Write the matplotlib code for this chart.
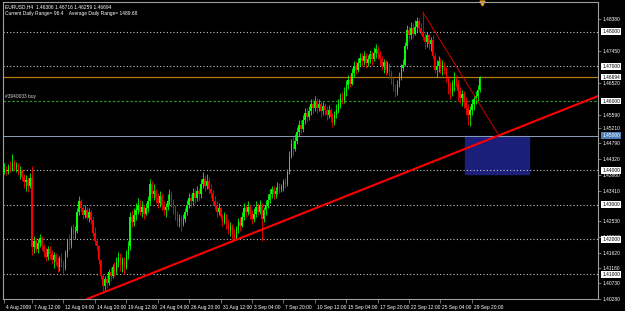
import matplotlib
matplotlib.use("Agg")
import matplotlib.pyplot as plt
import matplotlib.transforms as mtrans
from matplotlib.transforms import blended_transform_factory

# EURUSD H4 bars (open = previous close)
first_open = 1.4395
closes = [
    1.4405, 1.4395, 1.4410, 1.4402, 1.4420, 1.4408, 1.4415, 1.4392, 1.4398, 1.4380,
    1.4365, 1.4372, 1.4355, 1.4378, 1.4178, 1.4195, 1.4172, 1.4190, 1.4205, 1.4180,
    1.4165, 1.4150, 1.4172, 1.4158, 1.4140, 1.4155, 1.4135, 1.4120, 1.4145, 1.4130,
    1.4118, 1.4160, 1.4195, 1.4185, 1.4230, 1.4218, 1.4225, 1.4280, 1.4310, 1.4290,
    1.4270, 1.4285, 1.4262, 1.4280, 1.4255, 1.4220, 1.4195, 1.4180, 1.4140, 1.4095,
    1.4065, 1.4085, 1.4075, 1.4105, 1.4095, 1.4120, 1.4110, 1.4135, 1.4150, 1.4125,
    1.4140, 1.4120, 1.4155, 1.4180, 1.4265, 1.4250, 1.4270, 1.4285, 1.4300, 1.4280,
    1.4295, 1.4275, 1.4290, 1.4310, 1.4360, 1.4330, 1.4340, 1.4320, 1.4305, 1.4325,
    1.4300, 1.4285, 1.4295, 1.4310, 1.4330, 1.4310, 1.4290, 1.4270, 1.4250, 1.4262,
    1.4245, 1.4260, 1.4280, 1.4300, 1.4320, 1.4310, 1.4335, 1.4320, 1.4340, 1.4330,
    1.4360, 1.4375, 1.4355, 1.4370, 1.4345, 1.4335, 1.4310, 1.4300, 1.4280, 1.4290,
    1.4265, 1.4250, 1.4270, 1.4245, 1.4225, 1.4240, 1.4215, 1.4205, 1.4230, 1.4250,
    1.4240, 1.4265, 1.4290, 1.4280, 1.4295, 1.4275, 1.4260, 1.4275, 1.4295, 1.4280,
    1.4300, 1.4260, 1.4285, 1.4300, 1.4315, 1.4330, 1.4345, 1.4330, 1.4340, 1.4355,
    1.4345, 1.4350, 1.4365, 1.4360, 1.4395, 1.4440, 1.4475, 1.4460, 1.4485, 1.4510,
    1.4530, 1.4520, 1.4545, 1.4565, 1.4555, 1.4570, 1.4590, 1.4580, 1.4600, 1.4580,
    1.4590, 1.4570, 1.4585, 1.4575, 1.4560, 1.4575, 1.4555, 1.4540, 1.4560, 1.4575,
    1.4590, 1.4610, 1.4600, 1.4625, 1.4645, 1.4660, 1.4650, 1.4680, 1.4700, 1.4690,
    1.4710, 1.4725, 1.4715, 1.4730, 1.4710, 1.4720, 1.4735, 1.4720, 1.4740, 1.4750,
    1.4735, 1.4720, 1.4700, 1.4712, 1.4690, 1.4705, 1.4680, 1.4660, 1.4640, 1.4625,
    1.4650, 1.4670, 1.4695, 1.4705, 1.4760, 1.4805, 1.4790, 1.4810, 1.4795, 1.4815,
    1.4830, 1.4810, 1.4800, 1.4785, 1.4770, 1.4790, 1.4765, 1.4775, 1.4730, 1.4690,
    1.4700, 1.4715, 1.4695, 1.4705, 1.4690, 1.4665, 1.4640, 1.4625, 1.4645, 1.4665,
    1.4650, 1.4630, 1.4610, 1.4620, 1.4600, 1.4580, 1.4560, 1.4575, 1.4590, 1.4605,
    1.4615, 1.4631, 1.46694,
]
highs = [
    1.4420, 1.4412, 1.4418, 1.4428, 1.4447, 1.4430, 1.4425, 1.4420, 1.4412, 1.4404,
    1.4390, 1.4385, 1.4380, 1.4392, 1.4413, 1.4210, 1.4205, 1.4200, 1.4215, 1.4210,
    1.4188, 1.4175, 1.4180, 1.4182, 1.4170, 1.4165, 1.4162, 1.4148, 1.4152, 1.4160,
    1.4140, 1.4170, 1.4205, 1.4215, 1.4240, 1.4245, 1.4238, 1.4290, 1.4325, 1.4318,
    1.4300, 1.4300, 1.4295, 1.4292, 1.4285, 1.4268, 1.4235, 1.4205, 1.4185, 1.4145,
    1.4100, 1.4095, 1.4098, 1.4115, 1.4120, 1.4130, 1.4135, 1.4150, 1.4165, 1.4160,
    1.4150, 1.4148, 1.4170, 1.4195, 1.4280, 1.4285, 1.4290, 1.4305, 1.4320, 1.4315,
    1.4310, 1.4300, 1.4305, 1.4325, 1.4375, 1.4370, 1.4360, 1.4345, 1.4335, 1.4340,
    1.4335, 1.4310, 1.4305, 1.4330, 1.4345, 1.4340, 1.4318, 1.4300, 1.4282, 1.4275,
    1.4270, 1.4275, 1.4290, 1.4315, 1.4335, 1.4330, 1.4350, 1.4345, 1.4355, 1.4350,
    1.4375, 1.4395, 1.4385, 1.4390, 1.4380, 1.4360, 1.4345, 1.4325, 1.4310, 1.4305,
    1.4295, 1.4275, 1.4280, 1.4275, 1.4255, 1.4250, 1.4245, 1.4230, 1.4240, 1.4262,
    1.4265, 1.4280, 1.4305, 1.4300, 1.4310, 1.4300, 1.4285, 1.4290, 1.4310, 1.4305,
    1.4315, 1.4305, 1.4295, 1.4315, 1.4330, 1.4345, 1.4355, 1.4355, 1.4352, 1.4365,
    1.4362, 1.4360, 1.4375, 1.4378, 1.4405, 1.4455, 1.4490, 1.4495, 1.4505, 1.4525,
    1.4545, 1.4545, 1.4560, 1.4580, 1.4580, 1.4585, 1.4605, 1.4605, 1.4615, 1.4610,
    1.4605, 1.4600, 1.4598, 1.4595, 1.4585, 1.4588, 1.4580, 1.4565, 1.4570, 1.4590,
    1.4605, 1.4622, 1.4625, 1.4640, 1.4660, 1.4675, 1.4675, 1.4695, 1.4715, 1.4715,
    1.4725, 1.4740, 1.4740, 1.4745, 1.4738, 1.4732, 1.4748, 1.4745, 1.4755, 1.4765,
    1.4760, 1.4745, 1.4730, 1.4722, 1.4718, 1.4715, 1.4710, 1.4690, 1.4668, 1.4650,
    1.4660, 1.4685, 1.4708, 1.4722, 1.4770, 1.4820, 1.4818, 1.4828, 1.4825, 1.4835,
    1.4843, 1.4840, 1.4825, 1.4857, 1.4800, 1.4800, 1.4795, 1.4785, 1.4790, 1.4740,
    1.4718, 1.4730, 1.4725, 1.4718, 1.4712, 1.4698, 1.4672, 1.4655, 1.4660, 1.4685,
    1.4675, 1.4660, 1.4640, 1.4632, 1.4630, 1.4612, 1.4590, 1.4585, 1.4605, 1.4618,
    1.4628, 1.4645, 1.46716,
]
lows = [
    1.4388, 1.4385, 1.4390, 1.4396, 1.4398, 1.4400, 1.4395, 1.4385, 1.4375, 1.4368,
    1.4350, 1.4340, 1.4338, 1.4350, 1.4155, 1.4160, 1.4165, 1.4160, 1.4178, 1.4170,
    1.4150, 1.4138, 1.4140, 1.4145, 1.4128, 1.4118, 1.4125, 1.4105, 1.4110, 1.4120,
    1.4098, 1.4112, 1.4150, 1.4170, 1.4175, 1.4205, 1.4200, 1.4220, 1.4270, 1.4280,
    1.4260, 1.4262, 1.4255, 1.4250, 1.4245, 1.4210, 1.4185, 1.4170, 1.4130, 1.4085,
    1.4045, 1.4050, 1.4060, 1.4068, 1.4080, 1.4088, 1.4095, 1.4100, 1.4120, 1.4110,
    1.4105, 1.4100, 1.4115, 1.4145, 1.4170, 1.4235, 1.4240, 1.4255, 1.4275, 1.4270,
    1.4265, 1.4260, 1.4270, 1.4280, 1.4300, 1.4320, 1.4315, 1.4305, 1.4290, 1.4295,
    1.4285, 1.4270, 1.4265, 1.4285, 1.4300, 1.4295, 1.4275, 1.4255, 1.4240, 1.4235,
    1.4225, 1.4238, 1.4250, 1.4270, 1.4290, 1.4295, 1.4300, 1.4305, 1.4310, 1.4315,
    1.4320, 1.4350, 1.4340, 1.4345, 1.4330, 1.4320, 1.4300, 1.4285, 1.4265, 1.4270,
    1.4255, 1.4240, 1.4245, 1.4230, 1.4215, 1.4210, 1.4200, 1.4197, 1.4198, 1.4220,
    1.4225, 1.4235, 1.4255, 1.4265, 1.4270, 1.4260, 1.4245, 1.4250, 1.4265, 1.4270,
    1.4275, 1.4195, 1.4250, 1.4270, 1.4290, 1.4305, 1.4320, 1.4318, 1.4320, 1.4330,
    1.4335, 1.4338, 1.4340, 1.4348, 1.4355, 1.4390, 1.4435, 1.4445, 1.4455, 1.4475,
    1.4500, 1.4505, 1.4510, 1.4535, 1.4540, 1.4545, 1.4560, 1.4565, 1.4570, 1.4565,
    1.4570, 1.4555, 1.4560, 1.4560, 1.4545, 1.4550, 1.4540, 1.4525, 1.4530, 1.4550,
    1.4565, 1.4580, 1.4590, 1.4595, 1.4615, 1.4635, 1.4640, 1.4645, 1.4670, 1.4678,
    1.4685, 1.4700, 1.4700, 1.4705, 1.4695, 1.4700, 1.4710, 1.4705, 1.4715, 1.4725,
    1.4720, 1.4705, 1.4690, 1.4680, 1.4675, 1.4680, 1.4665, 1.4650, 1.4628, 1.4612,
    1.4618, 1.4640, 1.4660, 1.4688, 1.4700, 1.4750, 1.4772, 1.4780, 1.4782, 1.4790,
    1.4800, 1.4798, 1.4790, 1.4775, 1.4750, 1.4755, 1.4750, 1.4745, 1.4720, 1.4680,
    1.4670, 1.4685, 1.4680, 1.4675, 1.4678, 1.4655, 1.4620, 1.4605, 1.4615, 1.4630,
    1.4640, 1.4600, 1.4595, 1.4585, 1.4580, 1.4560, 1.4530, 1.4527, 1.4560, 1.4575,
    1.4590, 1.4600, 1.46259,
]

x_label_bars = [0, 14, 30, 46, 62, 78, 94, 110, 126, 142, 158, 174, 190, 206, 222, 238]
x_labels = ["4 Aug 2009", "7 Aug 12:00", "12 Aug 04:00", "14 Aug 20:00", "19 Aug 12:00",
            "24 Aug 04:00", "26 Aug 20:00", "31 Aug 12:00", "3 Sep 04:00", "7 Sep 20:00",
            "10 Sep 12:00", "15 Sep 04:00", "17 Sep 20:00", "22 Sep 12:00", "25 Sep 04:00",
            "29 Sep 20:00"]
price_ticks = [1.40280, 1.40730, 1.41180, 1.41620, 1.42060, 1.42530, 1.43410, 1.43860,
               1.44320, 1.44790, 1.45210, 1.45590, 1.46520, 1.47450, 1.48380]
level_marks = [1.48, 1.47, 1.46, 1.44, 1.43, 1.42, 1.41]
dotted_levels = [1.48, 1.47, 1.44, 1.43, 1.42, 1.41]
order_level = 1.46
order_text = "#3940033 buy"
box_level = 1.45
bid = 1.46694
box_bars = (234.5, 267.0)
box_prices = (1.4390, 1.4500)
trend_long = [(50, 1.4046), (117, 1.4197)]
trend_short = [(213, 1.4857), (251.3, 1.45045)]
header = ["EURUSD,H4  1.46306 1.46716 1.46259 1.46694",
          "Current Daily Range= 96.4    Average Daily Range= 1489.68"]

plt.rcParams["font.family"] = ["Liberation Sans", "DejaVu Sans"]
fs = 3.5

fig = plt.figure(figsize=(6.25, 3.11), dpi=100, facecolor="black")
ax = fig.add_axes([3 / 625, 12 / 311, 595 / 625, 297 / 311], facecolor="black")

opens = [first_open] + closes[:-1]
for i in range(len(closes)):
    o, c = opens[i], closes[i]
    col = "#00ff00" if c >= o else "#ff0000"
    ax.vlines(i, lows[i], highs[i], color=col, lw=0.6, zorder=3)
    ax.bar(i, max(abs(c - o), 0.00004), bottom=min(o, c), width=0.7, color=col,
           linewidth=0, zorder=3)

for lv in dotted_levels:
    ax.axhline(lv, color="#c8c8c8", lw=0.8, ls=(0, (1, 2)), zorder=2)
ax.axhline(order_level, color="#2f8f2f", lw=0.9, ls=(0, (2, 1.5)), zorder=2)
ax.axhline(box_level, color="#8aa0b8", lw=0.7, zorder=2)
ax.axhline(bid, color="#b07a10", lw=0.9, zorder=2)

ax.add_patch(plt.Rectangle((box_bars[0], box_prices[0]), box_bars[1] - box_bars[0],
                           box_prices[1] - box_prices[0], color="#1c1f7a", zorder=1))

ax.axline(trend_long[0], trend_long[1], color="#ff0000", lw=1.5, zorder=4)
(xa, ya), (xb, yb) = trend_short
ax.plot([xa, xb], [ya, yb], color="#d00000", lw=0.7, zorder=4)

ax.set_xlim(-0.76, 302.2)
ax.set_ylim(1.40340, 1.48861)

for s in ax.spines.values():
    s.set_color("#a0a0a0")
    s.set_linewidth(0.8)

ax.yaxis.tick_right()
ax.set_yticks(price_ticks)
ax.set_yticklabels([f"{p:.5f}" for p in price_ticks])
ax.tick_params(axis="y", colors="#a0a0a0", labelcolor="white", labelsize=fs,
               length=2, width=0.5, pad=1.5)
ax.set_xticks(x_label_bars)
ax.set_xticklabels(x_labels, ha="left")
ax.tick_params(axis="x", colors="#a0a0a0", labelcolor="white", labelsize=fs,
               length=3, width=0.5, pad=1)
offset = mtrans.ScaledTranslation(2 / 100, 0, fig.dpi_scale_trans)
for lab in ax.get_xticklabels():
    lab.set_transform(lab.get_transform() + offset)

tr = blended_transform_factory(ax.transAxes, ax.transData)
for lv in level_marks + [bid]:
    ax.text(1.007, lv, f"{lv:.5f}", transform=tr, fontsize=fs, color="black",
            va="center", ha="left", clip_on=False,
            bbox=dict(boxstyle="square,pad=0.2", fc="white", ec="none"))
ax.text(1.007, box_level, f"{box_level:.5f}", transform=tr, fontsize=fs, color="white",
        va="center", ha="left", clip_on=False,
        bbox=dict(boxstyle="square,pad=0.2", fc="#4a7eb5", ec="none"))

ax.text(0.004, order_level + 0.0007, order_text, transform=tr, fontsize=fs, color="#d0d0d0",
        va="bottom", ha="left")
fig.text(5 / 625, 1 - 7 / 311, header[0], fontsize=fs, color="white", va="center")
fig.text(5 / 625, 1 - 13 / 311, header[1], fontsize=fs, color="white", va="center")
ax.plot([243], [1.4882], marker="v", color="#e8a020", markersize=3.5, clip_on=False)

fig.savefig("out.png", dpi=100, facecolor="black")
